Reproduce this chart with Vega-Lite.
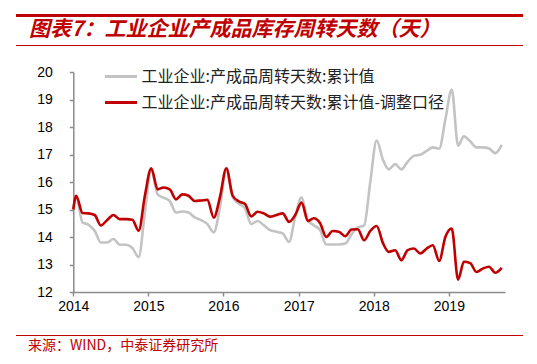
{
  "$schema": "https://vega.github.io/schema/vega-lite/v6.json",
  "padding": {"left": 16, "top": 14, "right": 14, "bottom": 0},
  "background": "white",
  "spacing": 13,
  "resolve": {"scale": {"color": "independent"}, "legend": {"color": "independent"}},
  "config": {"view": {"stroke": null}, "font": "Noto Sans CJK SC"},
  "datasets": {"bar": [{"a": 0, "b": 1}]},
  "vconcat": [
    {
      "spacing": 2,
      "vconcat": [
        {"width": 507, "height": 3, "data": {"name": "bar"}, "mark": {"type": "rect", "color": "#c00000"},
         "encoding": {"x": {"field": "a", "type": "quantitative", "scale": {"domain": [0, 1]}, "axis": null}, "x2": {"field": "b"},
                      "y": {"field": "a", "type": "quantitative", "scale": {"domain": [0, 1]}, "axis": null}, "y2": {"field": "b"}}},
        {"width": 507, "height": 1, "data": {"name": "bar"}, "mark": {"type": "rect", "color": "#c00000"},
         "encoding": {"x": {"field": "a", "type": "quantitative", "scale": {"domain": [0, 1]}, "axis": null}, "x2": {"field": "b"},
                      "y": {"field": "a", "type": "quantitative", "scale": {"domain": [0, 1]}, "axis": null}, "y2": {"field": "b"}},
          "title": {"text": "图表7：工业企业产成品库存周转天数（天）", "orient": "top", "anchor": "start", "dx": 13, "offset": 5, "fontSize": 21, "fontWeight": "bold", "fontStyle": "italic", "color": "#c00000", "font": "Noto Sans CJK SC"}
        }
      ]
    },
    {
      "width": 507,
      "height": 220,
      "data": {"values": [
        {"date": "2014-01-01", "累计值": 15.05, "累计值-调整口径": 15.0},
        {"date": "2014-01-15", "累计值": 15.45, "累计值-调整口径": 15.5},
        {"date": "2014-02-15", "累计值": 14.53, "累计值-调整口径": 14.87},
        {"date": "2014-03-15", "累计值": 14.45, "累计值-调整口径": 14.86},
        {"date": "2014-04-15", "累计值": 14.23, "累计值-调整口径": 14.8},
        {"date": "2014-05-15", "累计值": 13.8, "累计值-调整口径": 14.42},
        {"date": "2014-06-15", "累计值": 13.8, "累计值-调整口径": 14.62},
        {"date": "2014-07-15", "累计值": 13.93, "累计值-调整口径": 14.8},
        {"date": "2014-08-15", "累计值": 13.72, "累计值-调整口径": 14.65},
        {"date": "2014-09-15", "累计值": 13.72, "累计值-调整口径": 14.65},
        {"date": "2014-10-15", "累计值": 13.6, "累计值-调整口径": 14.63},
        {"date": "2014-11-15", "累计值": 13.27, "累计值-调整口径": 14.23},
        {"date": "2014-12-15", "累计值": 14.9, "累计值-调整口径": 15.5},
        {"date": "2015-01-15", "累计值": 16.45, "累计值-调整口径": 16.5},
        {"date": "2015-02-15", "累计值": 15.55, "累计值-调整口径": 15.73},
        {"date": "2015-03-15", "累计值": 15.43, "累计值-调整口径": 15.8},
        {"date": "2015-04-15", "累计值": 15.31, "累计值-调整口径": 15.73},
        {"date": "2015-05-15", "累计值": 14.89, "累计值-调整口径": 15.37},
        {"date": "2015-06-15", "累计值": 14.93, "累计值-调整口径": 15.55},
        {"date": "2015-07-15", "累计值": 14.89, "累计值-调整口径": 15.5},
        {"date": "2015-08-15", "累计值": 14.71, "累计值-调整口径": 15.31},
        {"date": "2015-09-15", "累计值": 14.61, "累计值-调整口径": 15.33},
        {"date": "2015-10-15", "累计值": 14.47, "累计值-调整口径": 15.35},
        {"date": "2015-11-15", "累计值": 14.17, "累计值-调整口径": 14.7},
        {"date": "2015-12-15", "累计值": 15.07, "累计值-调整口径": 15.45},
        {"date": "2016-01-15", "累计值": 16.45, "累计值-调整口径": 16.5},
        {"date": "2016-02-15", "累计值": 15.45, "累计值-调整口径": 15.5},
        {"date": "2016-03-15", "累计值": 15.22, "累计值-调整口径": 15.3},
        {"date": "2016-04-15", "累计值": 15.04, "累计值-调整口径": 15.2},
        {"date": "2016-05-15", "累计值": 14.47, "累计值-调整口径": 14.75},
        {"date": "2016-06-15", "累计值": 14.58, "累计值-调整口径": 14.92},
        {"date": "2016-07-15", "累计值": 14.43, "累计值-调整口径": 14.86},
        {"date": "2016-08-15", "累计值": 14.25, "累计值-调整口径": 14.74},
        {"date": "2016-09-15", "累计值": 14.19, "累计值-调整口径": 14.8},
        {"date": "2016-10-15", "累计值": 14.13, "累计值-调整口径": 14.86},
        {"date": "2016-11-15", "累计值": 13.82, "累计值-调整口径": 14.55},
        {"date": "2016-12-15", "累计值": 14.74, "累计值-调整口径": 14.8},
        {"date": "2017-01-15", "累计值": 15.44, "累计值-调整口径": 15.25},
        {"date": "2017-02-15", "累计值": 14.6, "累计值-调整口径": 14.58},
        {"date": "2017-03-15", "累计值": 14.43, "累计值-调整口径": 14.68},
        {"date": "2017-04-15", "累计值": 14.25, "累计值-调整口径": 14.5},
        {"date": "2017-05-15", "累计值": 13.73, "累计值-调整口径": 14.0},
        {"date": "2017-06-15", "累计值": 13.73, "累计值-调整口径": 14.22},
        {"date": "2017-07-15", "累计值": 13.73, "累计值-调整口径": 14.19},
        {"date": "2017-08-15", "累计值": 13.76, "累计值-调整口径": 14.03},
        {"date": "2017-09-15", "累计值": 14.1, "累计值-调整口径": 14.27},
        {"date": "2017-10-15", "累计值": 14.35, "累计值-调整口径": 14.28},
        {"date": "2017-11-15", "累计值": 14.42, "累计值-调整口径": 13.88},
        {"date": "2017-12-15", "累计值": 16.0, "累计值-调整口径": 14.22},
        {"date": "2018-01-15", "累计值": 17.51, "累计值-调整口径": 14.4},
        {"date": "2018-02-15", "累计值": 16.8, "累计值-调整口径": 13.77},
        {"date": "2018-03-15", "累计值": 16.46, "累计值-调整口径": 13.46},
        {"date": "2018-04-15", "累计值": 16.65, "累计值-调整口径": 13.52},
        {"date": "2018-05-15", "累计值": 16.46, "累计值-调整口径": 13.16},
        {"date": "2018-06-15", "累计值": 16.74, "累计值-调整口径": 13.52},
        {"date": "2018-07-15", "累计值": 16.95, "累计值-调整口径": 13.58},
        {"date": "2018-08-15", "累计值": 16.99, "累计值-调整口径": 13.4},
        {"date": "2018-09-15", "累计值": 17.13, "累计值-调整口径": 13.58},
        {"date": "2018-10-15", "累计值": 17.26, "累计值-调整口径": 13.7},
        {"date": "2018-11-15", "累计值": 17.21, "累计值-调整口径": 13.13},
        {"date": "2018-12-15", "累计值": 18.27, "累计值-调整口径": 14.0},
        {"date": "2019-01-15", "累计值": 19.36, "累计值-调整口径": 14.31},
        {"date": "2019-02-15", "累计值": 17.32, "累计值-调整口径": 12.45},
        {"date": "2019-03-15", "累计值": 17.66, "累计值-调整口径": 13.1},
        {"date": "2019-04-15", "累计值": 17.48, "累计值-调整口径": 13.05},
        {"date": "2019-05-15", "累计值": 17.26, "累计值-调整口径": 12.73},
        {"date": "2019-06-15", "累计值": 17.26, "累计值-调整口径": 12.85},
        {"date": "2019-07-15", "累计值": 17.22, "累计值-调整口径": 12.92},
        {"date": "2019-08-15", "累计值": 17.05, "累计值-调整口径": 12.7},
        {"date": "2019-09-15", "累计值": 17.35, "累计值-调整口径": 12.88}
      ]},
      "transform": [{"fold": ["累计值", "累计值-调整口径"], "as": ["series", "value"]}],
      "mark": {"type": "line", "interpolate": "monotone", "strokeWidth": 2.6},
      "encoding": {
        "x": {
          "field": "date", "type": "temporal",
          "scale": {"type": "utc", "range": [57.3, 489], "domain": [{"year": 2014, "month": 1, "date": 1, "utc": true}, {"year": 2019, "month": 10, "date": 1, "utc": true}]},
          "axis": {"title": null, "grid": false, "tickCount": {"interval": "year", "step": 1}, "domainColor": "#8c8c8c", "domainWidth": 1.5, "tickColor": "#8c8c8c", "tickWidth": 1.5, "tickSize": 4, "labelFont": "Liberation Sans", "labelFontSize": 14, "labelColor": "#000000", "labelPadding": 3, "labelFlush": false, "labelBound": false, "labelOverlap": false, "minExtent": 30}
        },
        "y": {
          "field": "value", "type": "quantitative",
          "scale": {"domain": [12, 20], "nice": false, "zero": false},
          "axis": {"title": null, "grid": false, "offset": -57.3, "values": [12, 13, 14, 15, 16, 17, 18, 19, 20], "domainColor": "#8c8c8c", "domainWidth": 1.5, "tickColor": "#8c8c8c", "tickWidth": 1.5, "tickSize": 4, "labelFont": "Liberation Sans", "labelFontSize": 14, "labelColor": "#000000", "labelPadding": 17}
        },
        "color": {
          "field": "series", "type": "nominal",
          "scale": {"domain": ["累计值", "累计值-调整口径"], "range": ["#c3c3c3", "#c00000"]},
          "legend": {"orient": "none", "legendX": 87.5, "legendY": -13, "title": null, "symbolType": "stroke", "symbolSize": 1024, "symbolStrokeWidth": 3, "labelFont": "Noto Sans CJK SC", "labelFontSize": 16, "labelColor": "#222222", "labelOffset": 3, "rowPadding": -3.4, "labelLimit": 500, "padding": 0, "direction": "vertical", "labelExpr": "'工业企业:产成品周转天数:' + datum.label"}
        }
      }
    },
    {
      "width": 507, "height": 1, "data": {"name": "bar"}, "mark": {"type": "rect", "color": "#c00000"},
      "encoding": {"x": {"field": "a", "type": "quantitative", "scale": {"domain": [0, 1]}, "axis": null}, "x2": {"field": "b"},
                   "y": {"field": "a", "type": "quantitative", "scale": {"domain": [0, 1]}, "axis": null}, "y2": {"field": "b"}},
      "title": {"text": "来源：WIND，中泰证券研究所", "orient": "bottom", "anchor": "start", "dx": 12, "offset": 3, "fontSize": 14, "fontWeight": "normal", "color": "#c00000", "font": "Noto Sans CJK SC"}
    }
  ]
}
